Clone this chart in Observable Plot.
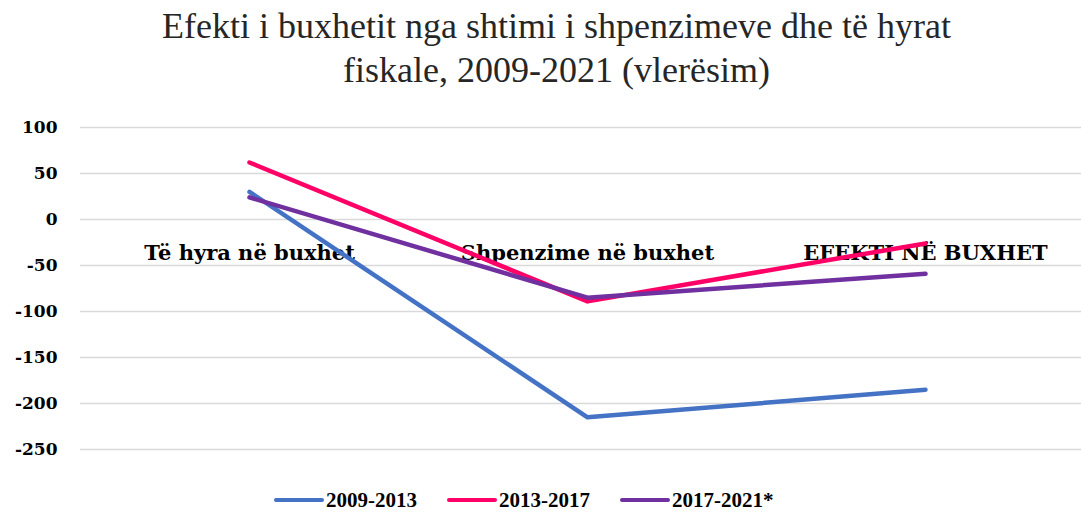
<!DOCTYPE html>
<html>
<head>
<meta charset="utf-8">
<script src="https://cdn.jsdelivr.net/npm/d3@7"></script>
<script src="https://cdn.jsdelivr.net/npm/@observablehq/plot@0.6"></script>
<style>
  html, body { margin: 0; padding: 0; background: #fff; }
  body { width: 1081px; height: 513px; overflow: hidden; font-family: "Liberation Serif", "DejaVu Serif", serif; }
  #title { height: 100px; text-align: center; font-size: 36px; line-height: 44px; color: #262626; padding-top: 4px; box-sizing: border-box; padding-left: 32px; white-space: nowrap; }
  #chart svg { display: block; }
  #legend { display: flex; align-items: center; padding-left: 274px; height: 26px; margin-top: 12px; font-weight: bold; font-size: 21px; line-height: 26px; color: #000; }
  .item { display: flex; align-items: center; margin-right: 30px; }
  .sw { display: inline-block; width: 50px; height: 4px; border-radius: 2px; margin-right: 2px; }
</style>
</head>
<body>
<div id="title">Efekti i buxhetit nga shtimi i shpenzimeve dhe të hyrat<br>fiskale, 2009-2021 (vlerësim)</div>
<div id="chart"></div>
<div id="legend"></div>
<script>
const categories = ["Të hyra në buxhet", "Shpenzime në buxhet", "EFEKTI NË BUXHET"];
const seriesNames = ["2009-2013", "2013-2017", "2017-2021*"];
const values2009_2013 = [30, -215, -185];
const values2013_2017 = [62, -89, -26];
const values2017_2021 = [24, -85, -59];
const yTicks = [100, 50, 0, -50, -100, -150, -200, -250];
const colors = ["#4472C4", "#FF0066", "#7030A0"];

const allSeries = [values2009_2013, values2013_2017, values2017_2021];
const data = [];
allSeries.forEach((vals, si) => vals.forEach((v, ci) => data.push({series: seriesNames[si], category: categories[ci], value: v})));

const chart = Plot.plot({
  width: 1081,
  height: 375,
  marginLeft: 80,
  marginRight: -13,
  marginTop: 27,
  marginBottom: 26,
  x: {type: "point", domain: categories, padding: 0.5, axis: null},
  y: {domain: [-250, 100], ticks: yTicks},
  color: {domain: seriesNames, range: colors},
  style: {fontFamily: "'Liberation Serif', serif", background: "#fff"},
  marks: [
    Plot.ruleY(yTicks, {stroke: "#d9d9d9", strokeWidth: 1.5}),
    Plot.axisY({ticks: yTicks, tickFormat: d => String(d), tickSize: 0, tickPadding: 23, fontSize: 17, fontWeight: "bold", fontFamily: "'DejaVu Serif', serif", fill: "#000", label: null}),
    Plot.text(categories, {x: d => d, y: () => 0, dy: 34, text: d => d, fontSize: 21, fontWeight: "bold", fontFamily: "'DejaVu Serif', serif", fill: "#000"}),
    Plot.line(data, {x: "category", y: "value", z: "series", stroke: "series", strokeWidth: 4.5, strokeLinecap: "round", strokeLinejoin: "round"})
  ]
});
document.getElementById("chart").appendChild(chart);

const legend = document.getElementById("legend");
seriesNames.forEach((name, i) => {
  const item = document.createElement("div");
  item.className = "item";
  const sw = document.createElement("span");
  sw.className = "sw";
  sw.style.background = colors[i];
  item.appendChild(sw);
  item.appendChild(document.createTextNode(name));
  legend.appendChild(item);
});
</script>
</body>
</html>
